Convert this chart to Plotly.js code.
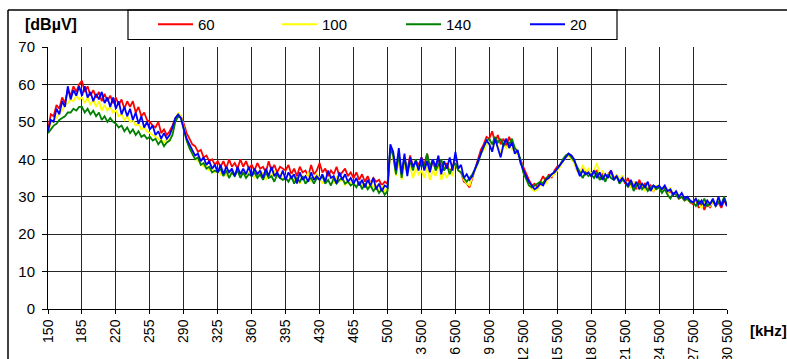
<!DOCTYPE html>
<html>
<head>
<meta charset="utf-8">
<script src="https://cdn.plot.ly/plotly-3.0.1.min.js"></script>
<style>html,body{margin:0;padding:0;background:#fff;}#chart{width:787px;height:359px;}</style>
</head>
<body>
<div id="chart"></div>
<script>
// Tick labels of the category-style frequency axis [kHz]
const tickLabels = ["150","185","220","255","290","325","360","395","430","465","500",
  "3 500","6 500","9 500","12 500","15 500","18 500","21 500","24 500","27 500","30 500"];
const STEPS = 12; // samples per labelled interval

const seriesNames = ["60", "100", "140", "20"];

const red = [
  48, 52, 51.5, 54.5, 53.5, 56.5, 55, 58.5, 57, 59.5, 58, 60,
  61, 58, 59.5, 57, 58.5, 56.5, 58, 55.5, 57.5, 55.5, 57, 55,
  56.5, 54.5, 56, 53.5, 55.5, 54, 55.5, 52.5, 54, 51.5, 52.5, 50.5,
  50, 49, 48.5, 50, 47, 48, 46.5, 47.5, 49, 51, 52, 51.5,
  49.5, 47, 45.5, 44, 43.5, 42, 42.5, 40.5, 41, 39.5, 40, 38.5,
  39.5, 38, 39.5, 37.5, 40, 38, 39, 37.5, 40, 38, 39.5, 37.5,
  38.5, 37, 39, 37.5, 38, 36.5, 39.5, 37, 38.5, 36.5, 38, 37.5,
  37, 38.5, 36, 37.5, 35.5, 38, 36.5, 37, 35.5, 38.5, 36, 37,
  39, 36.5, 37.5, 35.5, 37, 36, 38, 35.5, 36.5, 37.5, 35.5, 36.5,
  35, 36.5, 34.5, 36, 34, 35.5, 33.5, 35, 34, 34.5, 33, 34,
  33.5, 42.5, 41, 37.5, 40.5, 36.5, 40, 37, 41, 38, 39.5, 38.5,
  40.5, 38.5, 41.5, 37, 39.5, 37.5, 40, 38.5, 37, 39, 36.5, 38,
  40.5, 37, 36.5, 34, 33.5, 32.5, 35, 37, 40, 42.5, 44, 46,
  45.5, 47.5, 44.5, 46.5, 44, 45.5, 43.5, 46, 44, 43, 41.5, 40,
  38, 36, 34.5, 33, 33.5, 32.5, 34, 35.5, 34, 36, 35, 37,
  38, 38.5, 39.5, 40.5, 41.5, 41, 39.5, 37, 36.5, 37.5, 36, 36.5,
  35.5, 36.5, 37, 35, 36.5, 34.5, 36, 37, 35, 35.5, 34, 35.5,
  33.5, 35, 33, 34, 32, 34.5, 32.5, 33.5, 32, 33, 31.5, 32.5,
  32.5, 31.5, 32.5, 31, 31.5, 30.5, 31, 29.5, 30, 29, 29.5, 28.5,
  28, 29.5, 27, 28.5, 26.5, 28.5, 27, 29, 27.5, 28.5, 27, 29,
  27.5
];

const yellow = [
  47.5, 49.5, 50.5, 51, 52.5, 53, 54.5, 55, 56, 55.5, 57, 56,
  56.5, 55, 56.5, 54.5, 56, 54, 55.5, 53, 54.5, 53, 54, 52.5,
  53, 51.5, 52, 50.5, 51.5, 50, 50.5, 49, 49.5, 48, 48.5, 47.5,
  47, 46.5, 46, 45.5, 45, 44.5, 45.5, 45, 47, 50.5, 52.5, 51.5,
  48.5, 45, 43, 41.5, 40.5, 39.5, 39, 38, 38.5, 37, 37.5, 36.5,
  37, 36, 37.5, 35.5, 37, 36.5, 35.5, 37.5, 36, 37, 35.5, 36.5,
  36, 35, 37, 35.5, 36.5, 34.5, 36, 35.5, 37, 35, 36, 34.5,
  35.5, 34, 36, 34.5, 35, 33.5, 35.5, 34.5, 36.5, 34, 35, 36,
  35, 33.5, 35, 34, 36, 33.5, 35.5, 34, 35, 33, 34.5, 33.5,
  34, 32.5, 34, 33, 33.5, 32, 34, 32.5, 33, 31.5, 33, 31.5,
  32, 42.5, 40.5, 35.5, 39.5, 34.5, 38.5, 36, 38, 35, 37.5, 36,
  37, 35, 38, 34.5, 37, 35.5, 38.5, 34.5, 36.5, 35, 37, 35.5,
  39.5, 37, 36.5, 34.5, 33.5, 33, 35.5, 37, 39, 41.5, 42.5, 44,
  44.5, 42, 45, 43.5, 41.5, 44, 43, 44.5, 42.5, 43.5, 41, 40,
  36.5, 35, 33, 32, 31.5, 32, 33, 34, 33.5, 35, 35.5, 36,
  37, 38, 39.5, 40.5, 41, 40, 39, 37, 36, 38.5, 36.5, 37.5,
  36, 37, 39, 35.5, 37, 35, 36, 35.5, 34.5, 36, 34.5, 35.5,
  34, 33.5, 32.5, 34, 33, 32, 33.5, 31.5, 33, 32.5, 31.5, 33,
  32.5, 31.5, 32, 31, 32.5, 30.5, 31, 30, 30.5, 29, 29.5, 28.5,
  28.5, 29.5, 28, 27, 28.5, 29, 27.5, 28.5, 28, 29.5, 28, 29.5,
  28
];

const green = [
  47, 48, 49, 49.5, 50.5, 51, 51.5, 52.5, 52.5, 53.5, 53, 54,
  54, 52.5, 53.5, 52, 53, 51.5, 52.5, 50.5, 51.5, 50, 51, 50,
  49.5, 48.5, 49, 47.5, 48.5, 47, 48, 46.5, 47.5, 46, 46.5, 45.5,
  46, 45, 45.5, 44, 45, 43.5, 44.5, 45, 46.5, 50, 51.5, 51,
  48, 45, 43, 41.5, 40, 40.5, 38.5, 39, 37.5, 38, 36.5, 37,
  36.5, 37.5, 35.5, 37, 35, 36.5, 35.5, 37, 35, 36.5, 35, 36,
  35.5, 36.5, 35, 36, 34.5, 36.5, 35, 35.5, 34, 36, 35, 34.5,
  35, 34, 35.5, 33.5, 35, 34, 35.5, 33.5, 34.5, 35, 33.5, 35,
  34.5, 35.5, 33.5, 34.5, 33, 35, 33.5, 34.5, 35, 33.5, 34, 33,
  33.5, 32.5, 34, 32, 33.5, 32, 33, 31.5, 32.5, 31, 32, 30.5,
  31.5, 43, 41, 36, 41.5, 35, 40.5, 36.5, 39.5, 37, 40, 37.5,
  39.5, 37.5, 41.5, 38, 40, 37, 38.5, 40, 37, 38.5, 36, 38,
  39, 37, 36.5, 35, 34, 35, 36, 37.5, 39, 41.5, 43.5, 45,
  45.5, 44, 46, 44.5, 45.5, 43.5, 45, 44, 45.5, 43, 42, 40,
  36.5, 34.5, 33, 32.5, 33, 33.5, 34, 33.5, 35, 35.5, 36, 36.5,
  37.5, 38.5, 40, 41, 41.5, 40.5, 39.5, 38, 36.5, 35, 36.5, 35.5,
  36, 35, 36.5, 34.5, 35.5, 34, 36, 35, 34.5, 35.5, 33.5, 34.5,
  34, 32.5, 34, 31.5, 33, 33.5, 32, 33, 31.5, 32.5, 33, 32,
  32.5, 31, 32, 30.5, 29.5, 31, 30.5, 29.5, 30, 29, 29.5, 28.5,
  28.5, 27.5, 29, 28, 29.5, 27.5, 28, 29, 27.5, 28.5, 28, 30,
  27.5
];

const blue = [
  47.5, 50.5, 50, 53.5, 52, 55.5, 54, 59.5, 56, 58.5, 57, 59.5,
  57, 59.5, 56.5, 58, 55.5, 57.5, 56, 58, 55, 56.5, 54, 56.5,
  53.5, 55.5, 52, 54, 51.5, 53.5, 50.5, 52.5, 49.5, 51.5, 48.5, 50,
  48, 49, 46.5, 47.5, 45.5, 47, 45.5, 46.5, 48.5, 51, 52, 51,
  48, 45.5, 44, 42.5, 41, 41.5, 39.5, 40.5, 38.5, 39.5, 37.5, 38.5,
  36.5, 38.5, 36, 38, 36.5, 37.5, 35.5, 38, 36, 37.5, 36, 38,
  35.5, 37.5, 36, 37, 35, 37.5, 35.5, 38, 35.5, 36.5, 35, 37,
  34.5, 36.5, 35, 36, 33.5, 36.5, 34.5, 35.5, 34, 36.5, 34.5, 35.5,
  34.5, 36, 34, 37, 35, 35.5, 33.5, 36.5, 34.5, 36, 34, 35,
  33.5, 35, 33, 34.5, 32.5, 34.5, 33, 35, 32, 33.5, 31.5, 33,
  32.5, 44, 42, 37, 43, 36, 41.5, 35.5, 40.5, 38, 39.5, 37,
  40.5, 37, 39.5, 36.5, 40, 38, 41, 36, 39.5, 37.5, 40.5, 37,
  42, 37.5, 38.5, 35, 36, 34.5, 35.5, 37.5, 39.5, 42, 43.5, 45,
  44, 42, 45.5, 43, 40.5, 44, 45.5, 43, 44.5, 41.5, 42.5, 39,
  37, 35.5, 34, 33, 32, 32.5, 33.5, 33, 34.5, 35, 36, 36.5,
  37.5, 38.5, 39.5, 40.5, 41.5, 41, 40, 37.5, 35.5, 37, 36, 36.5,
  35.5, 37, 35, 36.5, 34.5, 36, 35, 37, 34.5, 35.5, 34, 35,
  34, 33, 34.5, 32.5, 34, 32, 33.5, 32.5, 34, 31.5, 33, 32.5,
  33, 32, 33, 31.5, 32, 30.5, 31.5, 30, 31, 29.5, 30, 29,
  28.5, 29.5, 28, 29, 27.5, 29, 28, 29.5, 27.5, 30, 27.5, 29.5,
  27.5
];

const seriesValues = [red, yellow, green, blue];
const seriesColors = ["#ff0000", "#ffff00", "#008000", "#0000ff"];

const FONT = "Liberation Sans, Arial, Helvetica, sans-serif";

const traces = seriesValues.map((vals, k) => ({
  type: "scatter",
  mode: "lines",
  name: seriesNames[k],
  x: vals.map((_, i) => i / STEPS),
  y: vals,
  line: { color: seriesColors[k], width: 1.8 },
  hoverinfo: "skip"
}));

// helpers to express pixel layout in paper coordinates
const W = 787, H = 359, ML = 48, MR = 60, MT = 47, MB = 50;
const PW = W - ML - MR, PH = H - MT - MB;
const px = v => (v - ML) / PW;
const py = v => (H - MB - v) / PH;

const layout = {
  width: W, height: H,
  margin: { l: ML, r: MR, t: MT, b: MB, pad: 0, autoexpand: false },
  paper_bgcolor: "#ffffff",
  plot_bgcolor: "#ffffff",
  font: { family: FONT, size: 14, color: "#000" },
  showlegend: true,
  legend: {
    orientation: "h",
    xref: "container", yref: "container",
    x: 153 / W, y: 1 - 8 / H, xanchor: "left", yanchor: "top",
    bgcolor: "rgba(0,0,0,0)", borderwidth: 0,
    font: { family: FONT, size: 15, color: "#000" },
    itemwidth: 35,
    entrywidth: 74, entrywidthmode: "pixels",
    traceorder: "normal"
  },
  xaxis: {
    range: [0, tickLabels.length - 1],
    tickmode: "array",
    tickvals: tickLabels.map((_, i) => i),
    ticktext: tickLabels,
    tickangle: -90,
    ticks: "outside", ticklen: 4, tickcolor: "#000", tickwidth: 1,
    showgrid: true, gridcolor: "#262626", gridwidth: 1,
    zeroline: false,
    showline: true, linecolor: "#000", linewidth: 1,
    tickfont: { family: FONT, size: 14, color: "#000" },
    automargin: false,
    fixedrange: true
  },
  yaxis: {
    range: [0, 70],
    tickmode: "linear", tick0: 0, dtick: 10,
    ticks: "outside", ticklen: 5, tickcolor: "#000", tickwidth: 1,
    ticklabelstandoff: 4,
    showgrid: true, gridcolor: "#262626", gridwidth: 1,
    zeroline: false,
    showline: true, linecolor: "#000", linewidth: 1,
    tickfont: { family: FONT, size: 15, color: "#000" },
    automargin: false,
    fixedrange: true
  },
  shapes: [
    { type: "line", xref: "paper", yref: "paper", x0: px(8), x1: px(800), y0: py(10), y1: py(10),
      line: { color: "#000", width: 1.5 } },
    { type: "line", xref: "paper", yref: "paper", x0: px(8), x1: px(8), y0: py(10), y1: py(370),
      line: { color: "#000", width: 1.5 } },
    { type: "rect", xref: "paper", yref: "paper", x0: px(128), x1: px(617), y0: py(10), y1: py(39.5),
      line: { color: "#000", width: 1.2 }, fillcolor: "rgba(0,0,0,0)" }
  ],
  annotations: [
    { text: "<b>[dBµV]</b>", xref: "paper", yref: "paper", x: px(51), y: py(24),
      xanchor: "center", yanchor: "middle", showarrow: false,
      font: { family: FONT, size: 16, color: "#000" } },
    { text: "<b>[kHz]</b>", xref: "paper", yref: "paper", x: px(748), y: py(330),
      xanchor: "left", yanchor: "middle", showarrow: false,
      font: { family: FONT, size: 15, color: "#000" } }
  ]
};

Plotly.newPlot("chart", traces, layout, { displayModeBar: false, staticPlot: true });
</script>
</body>
</html>
